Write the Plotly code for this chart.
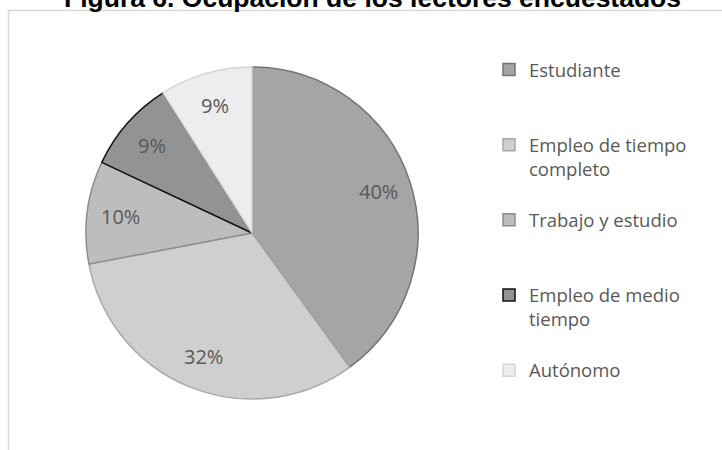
import math
import plotly.graph_objects as go

# Occupation of surveyed readers (percent of respondents)
categories = [
    "Estudiante",
    "Empleo de tiempo completo",
    "Trabajo y estudio",
    "Empleo de medio tiempo",
    "Autónomo",
]
shares = [40, 32, 10, 9, 9]

# Legend captions: long names wrapped over two lines
legend_text = {
    "Empleo de tiempo completo": "Empleo de tiempo<br>completo",
    "Empleo de medio tiempo": "Empleo de medio<br>tiempo",
}

fill_colors = ["#a5a5a5", "#cfcfcf", "#bdbdbd", "#939393", "#ededed"]
edge_colors = ["#747474", "#a9a9a9", "#8e8e8e", "#111111", "#d6d6d6"]

W, H = 722, 450
CX, CY, R = 252, 233, 166   # pie centre and radius in pixels
LABEL_RADIUS = 0.8          # percent labels sit at 80 % of the radius

# every legend entry occupies three text lines so the entries are evenly spaced
ROWS = 3
def legend_label(name):
    txt = legend_text.get(name, name)
    n = txt.count("<br>") + 1
    return txt + "<br>&nbsp;" * (ROWS - n)

labels = [legend_label(c) for c in categories]

fig = go.Figure(
    go.Pie(
        labels=labels,
        values=shares,
        sort=False,
        direction="clockwise",
        rotation=0,
        marker=dict(colors=fill_colors, line=dict(color=edge_colors, width=1.5)),
        textinfo="none",
        hoverinfo="skip",
        domain=dict(
            x=[(CX - R) / W, (CX + R) / W],
            y=[(H - CY - R) / H, (H - CY + R) / H],
        ),
    )
)

# percent labels at the middle angle of each slice (clockwise from 12 o'clock)
total = sum(shares)
label_notes = []
cum = 0.0
for v in shares:
    mid = (cum + v / 2) / total * 2 * math.pi
    cum += v
    px = CX + LABEL_RADIUS * R * math.sin(mid)
    py = CY - LABEL_RADIUS * R * math.cos(mid)
    label_notes.append(
        dict(
            text=f"{round(v / total * 100)}%",
            xref="paper",
            yref="paper",
            x=px / W,
            y=1 - py / H,
            xanchor="center",
            yanchor="middle",
            showarrow=False,
            font=dict(family="Open Sans", size=20, color="#595959"),
        )
    )

title_note = dict(
    text="<b>Figura 6. Ocupación de los lectores encuestados</b>",
    xref="paper",
    yref="paper",
    x=373 / W,
    y=1 - 15 / H,
    xanchor="center",
    yanchor="bottom",
    showarrow=False,
    font=dict(family="Liberation Sans", size=26.5, color="#000000"),
)

fig.update_layout(
    width=W,
    height=H,
    margin=dict(l=0, r=0, t=0, b=0),
    paper_bgcolor="white",
    plot_bgcolor="white",
    showlegend=True,
    legend=dict(
        x=489 / W,
        xanchor="left",
        y=1 - 51 / H,
        yanchor="top",
        valign="top",
        font=dict(family="Open Sans", size=18.5, color="#595959"),
        bgcolor="rgba(0,0,0,0)",
        traceorder="normal",
    ),
    shapes=[
        dict(
            type="rect",
            xref="paper",
            yref="paper",
            x0=8.5 / W,
            x1=1.05,
            y0=-0.05,
            y1=1 - 10.5 / H,
            line=dict(color="#d9d9d9", width=1.5),
            fillcolor="rgba(0,0,0,0)",
            layer="below",
        )
    ],
    annotations=label_notes + [title_note],
)

fig.write_html("out.html")
